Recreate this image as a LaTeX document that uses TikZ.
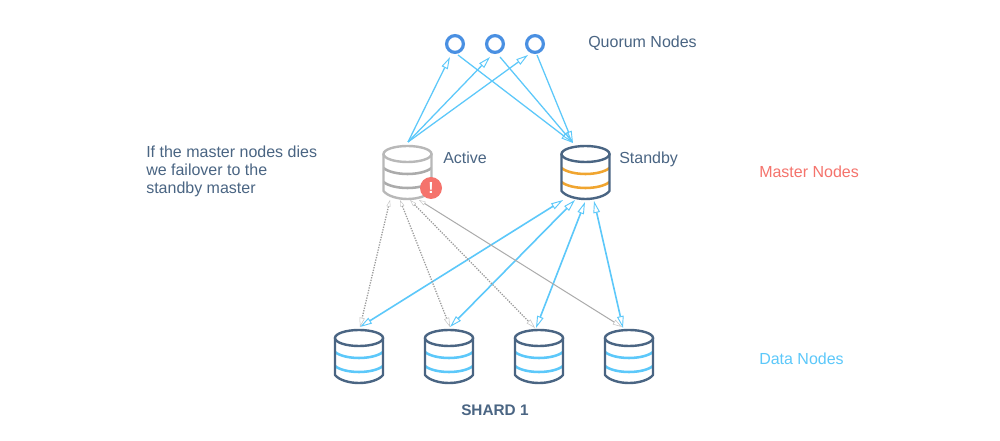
\documentclass[tikz,border=0pt]{standalone}
\usepackage{fontspec}
\setmainfont{Liberation Sans}
\usetikzlibrary{arrows.meta,calc}
\definecolor{linkblue}{HTML}{5CC8FA}
\definecolor{slate}{HTML}{4A6583}
\definecolor{ringblue}{HTML}{4A90E2}
\definecolor{amber}{HTML}{F0A530}
\definecolor{alert}{HTML}{F5736C}
\definecolor{dimgrey}{HTML}{B8B8B8}
\definecolor{greyband}{HTML}{ABABAB}
\definecolor{greyline}{HTML}{9A9A9A}
\definecolor{greysolid}{HTML}{ABABAB}
\definecolor{greytip}{HTML}{C4C4C4}
% draws a cylinder inside a named box
\newcommand{\dbshape}[5]{% name, cx, top, outline, band
  \node[dbbox] (#1) at (#2,#3+26.5) {};
  \begin{scope}[shift={(#2,#3)}]
    \draw[line width=1.9pt,#5] (-24,22) .. controls (-14,30) and (14,30) .. (24,22);
    \draw[line width=1.9pt,#5] (-24,36) .. controls (-14,44) and (14,44) .. (24,36);
    \draw[line width=1.8pt,#4] (0,8) ellipse [x radius=24,y radius=8];
    \draw[line width=1.8pt,#4,line join=round] (-24,8) -- (-24,45) .. controls (-20,50) and (-10,53) .. (0,53) .. controls (10,53) and (20,50) .. (24,45) -- (24,8);
  \end{scope}
}
\tikzset{
  x=0.75pt,y=-0.75pt,
  dbbox/.style={rectangle,minimum width=36pt,minimum height=39.75pt,inner sep=0pt,outer sep=0pt},
  quorum/.style={circle,draw=ringblue,line width=2.4pt,minimum size=12.6pt,inner sep=0pt},
  label/.style={anchor=base west,inner sep=0pt,text=slate,font=\fontsize{12}{13.5}\selectfont},
  tipblue/.tip={Triangle[open,length=9pt,width=5pt,line width=0.7pt]},
  tipgrey/.tip={Triangle[open,length=7pt,width=4pt,line width=0.4pt,color=greytip]},
  tipsmall/.tip={Triangle[open,length=5pt,width=3pt,line width=0.3pt,color=greytip]},
  vote/.style={draw=linkblue,line width=0.95pt,-tipblue},
  repl/.style={draw=linkblue,line width=1.2pt,tipblue-tipblue},
  deadlink/.style={draw=greyline,line width=0.95pt,densely dotted,tipsmall-tipgrey},
  deadsolid/.style={draw=greysolid,line width=0.75pt,tipsmall-tipgrey},
}
\begin{document}
\begin{tikzpicture}
\useasboundingbox (0,0) rectangle (1000,441);
\fill[white] (0,0) rectangle (1000,441);

\node[quorum] (q1) at (455,44) {};
\node[quorum] (q2) at (495,44) {};
\node[quorum] (q3) at (535,44) {};

\dbshape{active}{407.5}{146}{dimgrey}{greyband}
\dbshape{standby}{585.5}{146}{slate}{amber}
\dbshape{d1}{359}{330}{slate}{linkblue}
\dbshape{d2}{449}{330}{slate}{linkblue}
\dbshape{d3}{539}{330}{slate}{linkblue}
\dbshape{d4}{629}{330}{slate}{linkblue}

\node[circle,fill=alert,minimum size=16.5pt,inner sep=0pt,text=white,font=\bfseries\fontsize{12}{12}\selectfont] (warn) at (431,188) {!};

% votes from the active master to the quorum
\coordinate (aTop) at ($(active.north)+(0.5,-4)$);
\draw[vote] (aTop) -- ($(q1)+(-5,13)$);
\draw[vote] (aTop) -- ($(q2)+(-5,13)$);
\draw[vote] (aTop) -- ($(q3)+(-7,11)$);
% votes from the quorum to the standby master
\coordinate (sTop) at ($(standby.north)+(-12.5,-3)$);
\draw[vote] ($(q1)+(3,11)$) -- (sTop);
\draw[vote] ($(q2)+(5,13)$) -- (sTop);
\draw[vote] ($(q3)+(2,11)$) -- (sTop);

% replication, standby master
\draw[repl] ($(standby.south)+(-22.5,1)$) -- ($(d1.north)+(1,-3)$);
\draw[repl] ($(standby.south)+(-10.5,1)$) -- ($(d2.north)+(1,-3)$);
\draw[repl] ($(standby.south)+(-0.5,3)$) -- ($(d3.north)+(-3,-2)$);
\draw[repl] ($(standby.south)+(8.5,2)$) -- ($(d4.north)+(-6,-2)$);

% replication, failed master
\draw[deadlink] ($(active.south)+(-17.5,1)$) -- ($(d1.north)+(1,-3)$);
\draw[deadlink] ($(active.south)+(-7.5,1)$) -- ($(d2.north)+(1,-3)$);
\draw[deadlink] ($(active.south)+(2.5,1)$) -- ($(d3.north)+(-4,-2)$);
\draw[deadsolid] ($(active.south)+(11.5,1)$) -- ($(d4.north)+(-7,-3)$);

\node[label] (tquorum) at (588,48) {Quorum Nodes};
\node[label] (tactive) at (443,164) {Active};
\node[label] (tstandby) at (619,164) {Standby};
\node[label,text=alert] (tmaster) at (759,178) {Master Nodes};
\node[label,text=linkblue] (tdata) at (759,365) {Data Nodes};
\node[label] (t1) at (146,158) {If the master nodes dies};
\node[label] (t2) at (146,176) {we failover to the};
\node[label] (t3) at (146,194) {standby master};
\node[label,font=\bfseries\fontsize{11.5}{13}\selectfont] (tshard) at (461,416) {SHARD 1};
\end{tikzpicture}
\end{document}
